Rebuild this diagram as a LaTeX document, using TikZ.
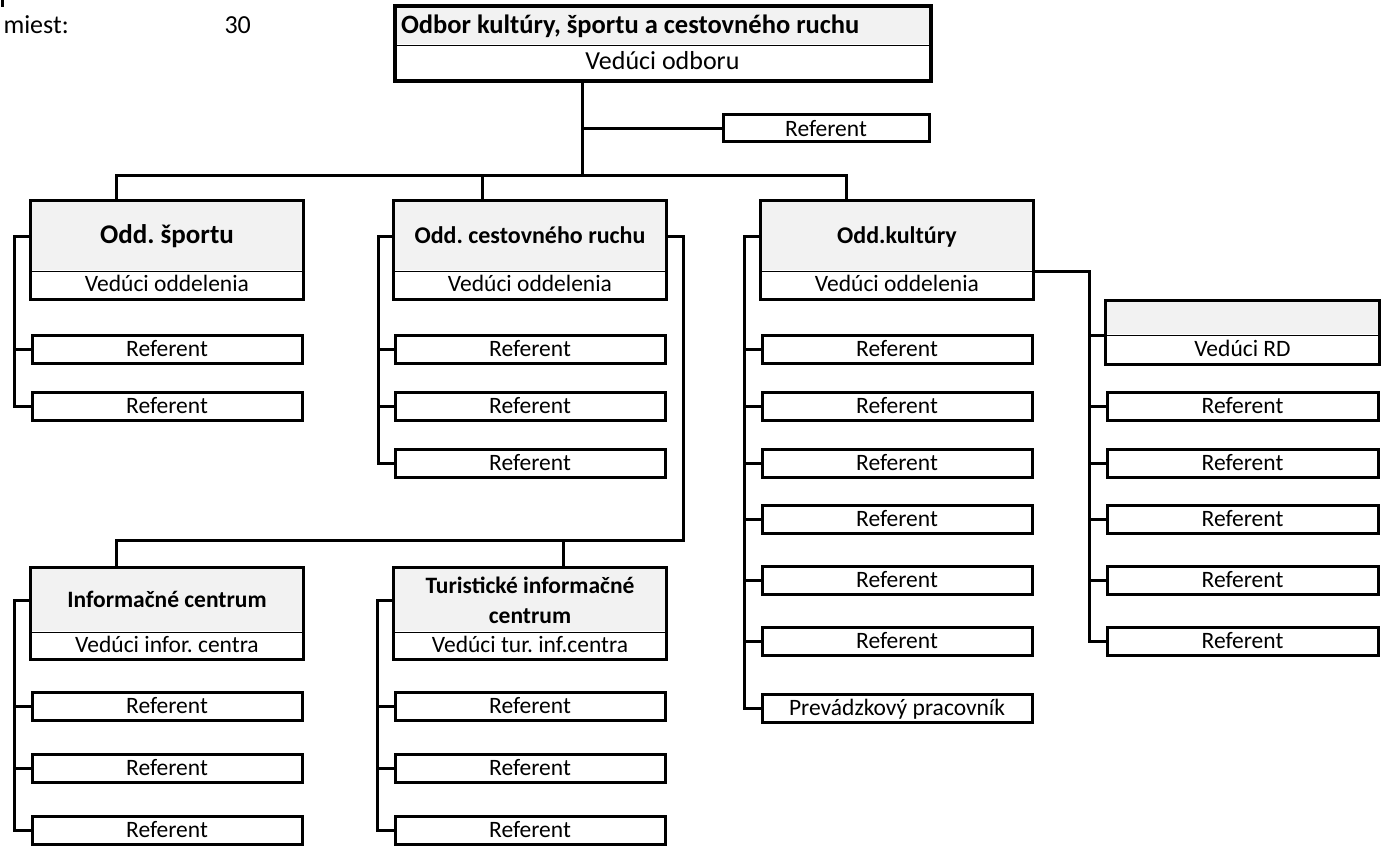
\documentclass[tikz,border=0pt]{standalone}
\usepackage{fontspec}
\setmainfont{Carlito}
\usetikzlibrary{calc}
\definecolor{hdrgray}{HTML}{F2F2F2}
\newcommand{\fsz}[1]{\fontsize{#1}{#1}\selectfont}
\begin{document}
\frenchspacing
\begin{tikzpicture}[x=1pt,y=-1pt, line width=3pt,
  every node/.style={inner sep=0pt, font=\fsz{23.5}, text height=20.5pt, text depth=5pt},
  hbox/.style={fill=hdrgray, minimum width=270pt, align=center},
  bbox/.style={minimum width=270pt, minimum height=28pt},
  rbox/.style={draw, fill=white, minimum width=270pt, minimum height=28pt},
  divline/.style={line width=1.2pt}]
\useasboundingbox (0,0) rectangle (1381,848);
% cut-off mark and header texts
\fill (1,0) rectangle (3.5,7);
\node[anchor=west, font=\fsz{26}] (lbl) at (2,26) {miest:};
\node[anchor=west, font=\fsz{26}] (num) at (223,26) {30};
% top box
\node[fill=hdrgray, minimum width=533pt, minimum height=36pt] (tH) at (662.5,26) {};
\node[anchor=west, font=\bfseries\fsz{26.5}] (title) at ($(tH.west)+(5,0)$) {Odbor kultúry, športu a cestovného ruchu};
\node[minimum width=533pt, minimum height=36pt, font=\fsz{26}] (tB) at (662.5,62) {Vedúci odboru};
\draw[divline] (tH.south west) -- (tH.south east);
\draw[line width=4pt] (tH.north west) rectangle (tB.south east);
\node[draw, fill=white, minimum width=206pt, minimum height=27pt] (tR) at (826,128.5) {Referent};
% junctions
\coordinate (j0) at (582,175);
\coordinate (ja) at (116,175);
\coordinate (jb) at (482,175);
\coordinate (jc) at (846,175);
% sport
\node[hbox, minimum height=68pt, font=\bfseries\fsz{27}, text height=20pt, text depth=5pt] (sH) at (167,236) {Odd. športu};
\node[bbox] (sB) at (167,284) {Vedúci oddelenia};
\draw[divline] (sH.south west) -- (sH.south east);
\draw (sH.north west) rectangle (sB.south east);
\node[rbox] (sR1) at (167,349) {Referent};
\node[rbox] (sR2) at (167,406) {Referent};
% cestovny ruch
\node[hbox, minimum height=68pt, font=\bfseries\fsz{24}] (cH) at (530,236) {Odd. cestovného ruchu};
\node[bbox] (cB) at (530,284) {Vedúci oddelenia};
\draw[divline] (cH.south west) -- (cH.south east);
\draw (cH.north west) rectangle (cB.south east);
\node[rbox] (cR1) at (530,349) {Referent};
\node[rbox] (cR2) at (530,406) {Referent};
\node[rbox] (cR3) at (530,463) {Referent};
% kultura
\node[hbox, minimum height=68pt, font=\bfseries\fsz{24}] (kH) at (897,236) {Odd.kultúry};
\node[bbox] (kB) at (897,284) {Vedúci oddelenia};
\draw[divline] (kH.south west) -- (kH.south east);
\draw (kH.north west) rectangle (kB.south east);
\node[rbox] (kR1) at (897,349) {Referent};
\node[rbox] (kR2) at (897,406) {Referent};
\node[rbox] (kR3) at (897,463) {Referent};
\node[rbox] (kR4) at (897,519) {Referent};
\node[rbox] (kR5) at (897,580) {Referent};
\node[rbox] (kR6) at (897,641) {Referent};
\node[rbox] (kR7) at (897,708) {Prevádzkový pracovník};
% RD
\node[fill=hdrgray, minimum width=271pt, minimum height=32pt] (rH) at (1242.5,318) {};
\node[minimum width=271pt, minimum height=29pt] (rB) at (1242.5,348.5) {Vedúci RD};
\draw[divline] (rH.south west) -- (rH.south east);
\draw (rH.north west) rectangle (rB.south east);
\node[rbox, minimum width=271pt] (rR1) at (1242.5,406) {Referent};
\node[rbox, minimum width=271pt] (rR2) at (1242.5,463) {Referent};
\node[rbox, minimum width=271pt] (rR3) at (1242.5,519) {Referent};
\node[rbox, minimum width=271pt] (rR4) at (1242.5,580) {Referent};
\node[rbox, minimum width=271pt] (rR5) at (1242.5,641) {Referent};
% info centrum
\node[hbox, minimum height=62pt, font=\bfseries\fsz{23.5}] (iH) at (167,600) {Informačné centrum};
\node[bbox, minimum height=27pt] (iB) at (167,644.5) {Vedúci infor. centra};
\draw[divline] (iH.south west) -- (iH.south east);
\draw (iH.north west) rectangle (iB.south east);
\node[rbox] (iR1) at (167,706) {Referent};
\node[rbox] (iR2) at (167,768) {Referent};
\node[rbox] (iR3) at (167,830) {Referent};
% turisticke
\node[hbox, minimum height=62pt, text height={}, text depth={}, font=\bfseries\fontsize{23.5}{30}\selectfont] (uH) at (530,600) {Turistické informačné\\centrum};
\node[bbox, minimum height=27pt] (uB) at (530,644.5) {Vedúci tur. inf.centra};
\draw[divline] (uH.south west) -- (uH.south east);
\draw (uH.north west) rectangle (uB.south east);
\node[rbox] (uR1) at (530,706) {Referent};
\node[rbox] (uR2) at (530,768) {Referent};
\node[rbox] (uR3) at (530,830) {Referent};
% connectors: top level
\draw (tB.south -| j0) -- (j0);
\draw (j0 |- tR.west) -- (tR.west);
\draw (ja |- sH.north) -- (ja) -- (jc) -- (jc |- kH.north);
\draw (jb) -- (jb |- cH.north);
% sport spine
\coordinate (sp) at (14,0);
\draw (sH.west) -- (sH.west -| sp) -- (sR2.west -| sp) -- (sR2.west);
\draw (sR1.west -| sp) -- (sR1.west);
% cestovny spine
\coordinate (cp) at (378,0);
\draw (cH.west) -- (cH.west -| cp) -- (cR3.west -| cp) -- (cR3.west);
\draw (cR1.west -| cp) -- (cR1.west);
\draw (cR2.west -| cp) -- (cR2.west);
% kultura spine
\coordinate (kp) at (744,0);
\draw (kH.west) -- (kH.west -| kp) -- (kR7.west -| kp) -- (kR7.west);
\foreach \n in {kR1,kR2,kR3,kR4,kR5,kR6} \draw (\n.west -| kp) -- (\n.west);
% RD spine
\coordinate (rp) at (1089,0);
\draw (kH.south east) -- (kH.south east -| rp) -- (rR5.west -| rp) -- (rR5.west);
\draw (rH.south west -| rp) -- (rH.south west);
\foreach \n in {rR1,rR2,rR3,rR4} \draw (\n.west -| rp) -- (\n.west);
% lower level
\coordinate (lp) at (683,540);
\coordinate (la) at (116,540);
\coordinate (lb) at (563,540);
\draw (cH.east) -- (cH.east -| lp) -- (lp) -- (la) -- (la |- iH.north);
\draw (lb) -- (lb |- uH.north);
% info spine
\coordinate (ip) at (14,0);
\draw (iH.west) -- (iH.west -| ip) -- (iR3.west -| ip) -- (iR3.west);
\draw (iR1.west -| ip) -- (iR1.west);
\draw (iR2.west -| ip) -- (iR2.west);
% turisticke spine
\coordinate (up) at (377,0);
\draw (uH.west) -- (uH.west -| up) -- (uR3.west -| up) -- (uR3.west);
\draw (uR1.west -| up) -- (uR1.west);
\draw (uR2.west -| up) -- (uR2.west);
\end{tikzpicture}
\end{document}
